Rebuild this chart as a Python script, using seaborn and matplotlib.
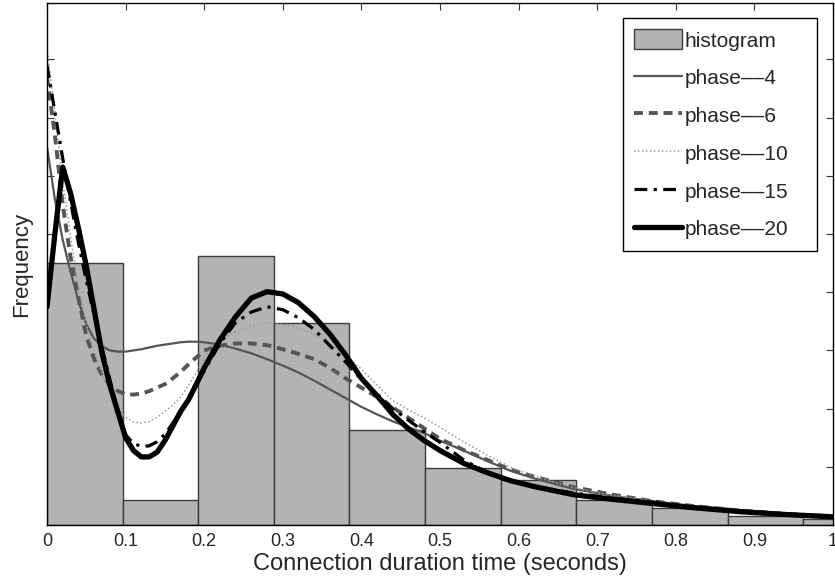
import numpy as np
import pandas as pd
import matplotlib
matplotlib.use("Agg")
import matplotlib.pyplot as plt
import seaborn as sns

# ---------------- data ----------------
bin_width = 0.0962
n_bins = 11
hist_heights = [4.51, 0.43, 4.63, 3.47, 1.63, 0.98, 0.77, 0.43, 0.29, 0.155, 0.10]

x_grid = [0.00, 0.01, 0.02, 0.03, 0.04, 0.05, 0.06, 0.07, 0.08, 0.09,
          0.10, 0.11, 0.12, 0.13, 0.14, 0.15, 0.16, 0.17, 0.18, 0.19,
          0.20, 0.22, 0.24, 0.26, 0.28, 0.30, 0.32, 0.34, 0.36, 0.38,
          0.40, 0.42, 0.44, 0.46, 0.48, 0.50, 0.53, 0.56, 0.59, 0.62,
          0.67, 0.72, 0.77, 0.82, 0.88, 0.94, 1.00]

phase4 = [6.50, 5.60, 4.90, 4.35, 3.85, 3.45, 3.20, 3.07, 3.00, 2.98,
          2.98, 3.00, 3.02, 3.05, 3.08, 3.10, 3.12, 3.14, 3.15, 3.15,
          3.14, 3.10, 3.03, 2.95, 2.85, 2.74, 2.62, 2.48, 2.33, 2.18,
          2.03, 1.90, 1.78, 1.68, 1.58, 1.45, 1.28, 1.10, 0.93, 0.80,
          0.62, 0.50, 0.41, 0.33, 0.26, 0.20, 0.16]

phase6 = [7.70, 6.70, 5.50, 4.60, 3.90, 3.25, 2.85, 2.57, 2.42, 2.30,
          2.25, 2.24, 2.26, 2.30, 2.36, 2.42, 2.52, 2.63, 2.76, 2.88,
          3.00, 3.08, 3.12, 3.12, 3.09, 3.02, 2.94, 2.85, 2.70, 2.52,
          2.36, 2.20, 2.02, 1.84, 1.66, 1.48, 1.29, 1.12, 0.95, 0.83,
          0.65, 0.52, 0.41, 0.33, 0.25, 0.19, 0.15]

phase10 = [8.20, 7.10, 5.90, 4.95, 4.10, 3.45, 3.00, 2.60, 2.28, 2.02,
           1.85, 1.77, 1.75, 1.78, 1.85, 1.95, 2.06, 2.20, 2.40, 2.62,
           2.88, 3.18, 3.32, 3.42, 3.47, 3.45, 3.38, 3.28, 3.12, 2.90,
           2.68, 2.40, 2.14, 1.98, 1.84, 1.68, 1.43, 1.20, 0.99, 0.84,
           0.64, 0.51, 0.41, 0.33, 0.25, 0.19, 0.15]

phase15 = [7.90, 7.10, 6.30, 5.55, 4.85, 4.20, 3.60, 3.05, 2.50, 1.95,
           1.55, 1.40, 1.35, 1.36, 1.43, 1.56, 1.75, 1.95, 2.18, 2.42,
           2.65, 3.12, 3.48, 3.66, 3.75, 3.70, 3.56, 3.36, 3.08, 2.80,
           2.50, 2.25, 2.00, 1.80, 1.60, 1.42, 1.12, 0.90, 0.76, 0.66,
           0.55, 0.46, 0.39, 0.31, 0.24, 0.18, 0.14]

phase20 = [3.75, 5.00, 6.15, 5.70, 5.10, 4.45, 3.70, 2.95, 2.40, 1.95,
           1.50, 1.28, 1.17, 1.17, 1.25, 1.45, 1.70, 1.95, 2.15, 2.42,
           2.70, 3.18, 3.58, 3.90, 4.01, 3.97, 3.82, 3.58, 3.28, 2.92,
           2.52, 2.22, 1.90, 1.65, 1.45, 1.28, 1.06, 0.90, 0.76, 0.66,
           0.52, 0.44, 0.37, 0.30, 0.23, 0.18, 0.14]

hist_label = "histogram"
series_labels = ["phase\u2013\u20134", "phase\u2013\u20136", "phase\u2013\u201310",
                 "phase\u2013\u201315", "phase\u2013\u201320"]
x_ticks = [0, 0.1, 0.2, 0.3, 0.4, 0.5, 0.6, 0.7, 0.8, 0.9, 1]
x_tick_labels = ["0", "0.1", "0.2", "0.3", "0.4", "0.5", "0.6", "0.7", "0.8", "0.9", "1"]
y_ticks = [0, 1, 2, 3, 4, 5, 6, 7, 8]

# ---------------- style ----------------
sns.set_style("ticks")
plt.rcParams["font.family"] = ["Liberation Sans", "DejaVu Sans"]
plt.rcParams["xtick.direction"] = "in"
plt.rcParams["ytick.direction"] = "in"

fig = plt.figure(figsize=(8.35, 5.79), dpi=100)
ax = fig.add_axes([47 / 835, 54 / 579, 786 / 835, 522 / 579])

bin_edges = [i * bin_width for i in range(n_bins + 1)]
centers = [(i + 0.5) * bin_width for i in range(n_bins)]
hist_df = pd.DataFrame({"t": centers, "w": hist_heights})
sns.histplot(data=hist_df, x="t", weights="w", bins=bin_edges, ax=ax,
             color="#b3b3b3", edgecolor="#3c3c3c", linewidth=1.0, alpha=1.0,
             label=hist_label)

styles = [
    dict(color="#555555", lw=1.6, linestyle="-"),
    dict(color="#555555", lw=2.8, linestyle=(0, (2.3, 1.5))),
    dict(color="#999999", lw=1.1, linestyle=(0, (1, 1.6))),
    dict(color="#000000", lw=2.3, linestyle=(0, (4, 2, 1, 2))),
    dict(color="#000000", lw=3.8, linestyle="-"),
]
for ys, lab, st in zip([phase4, phase6, phase10, phase15, phase20], series_labels, styles):
    sns.lineplot(x=x_grid, y=ys, ax=ax, label=lab, sort=False, **st)

ax.set_xlim(0, 1)
ax.set_ylim(0, 8.97)
ax.set_xticks(x_ticks)
ax.set_xticklabels(x_tick_labels, fontsize=13)
ax.set_yticks(y_ticks)
ax.set_yticklabels([])
ax.tick_params(axis="both", which="both", top=True, right=True, length=5,
               width=0.8, color="#333333", pad=6)
for sp in ax.spines.values():
    sp.set_visible(True)
    sp.set_color("black")
    sp.set_linewidth(1.0)
ax.set_xlabel("Connection duration time (seconds)", fontsize=17, labelpad=2)
ax.set_ylabel("Frequency", fontsize=16, labelpad=5)

handles, labels = ax.get_legend_handles_labels()
order = [labels.index(hist_label)] + [labels.index(l) for l in series_labels]
leg = ax.legend([handles[i] for i in order], [labels[i] for i in order],
                loc="upper right", bbox_to_anchor=(0.7328, 0.5, 0.2468, 0.4713),
                mode="expand", fontsize=15,
                frameon=True, fancybox=False, framealpha=1, edgecolor="black",
                handlelength=2.3, handleheight=1.1, handletextpad=0.12,
                labelspacing=0.8, borderpad=0.55, borderaxespad=0)
leg.get_frame().set_linewidth(1.0)

fig.savefig("out.png", dpi=100)
